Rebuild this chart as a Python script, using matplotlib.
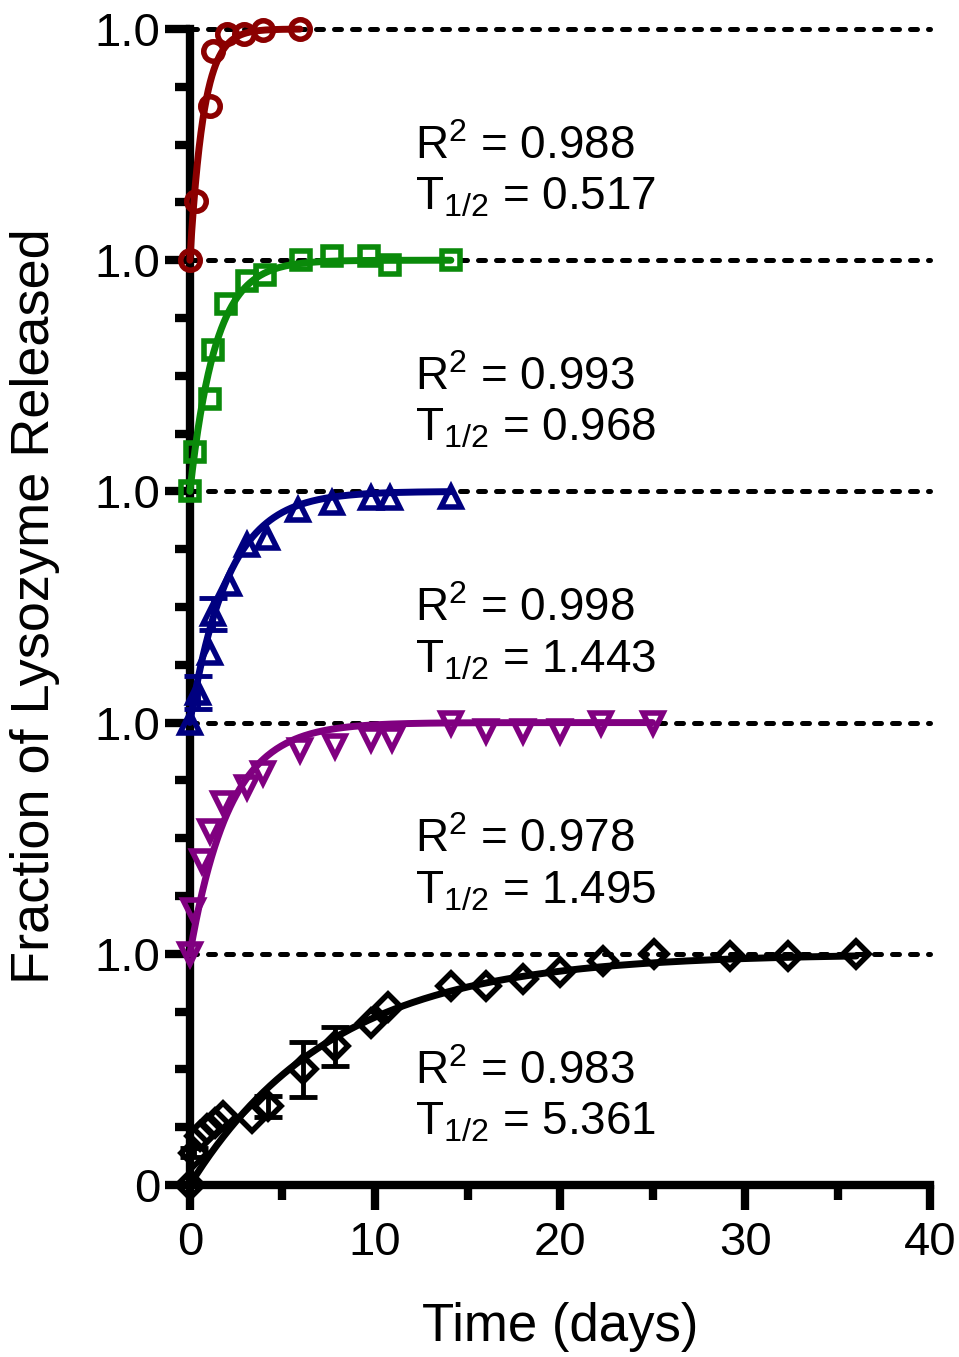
import numpy as np
import matplotlib
matplotlib.use("Agg")
import matplotlib.pyplot as plt

# Шрифт, похожий на Arial
plt.rcParams['font.family'] = ['Liberation Sans', 'DejaVu Sans']
plt.rcParams['mathtext.fontset'] = 'custom'
plt.rcParams['mathtext.rm'] = 'Liberation Sans'
plt.rcParams['mathtext.it'] = 'Liberation Sans:italic'
plt.rcParams['mathtext.bf'] = 'Liberation Sans:bold'

# Данные (сверху вниз), время в днях, доля высвобожденного лизоцима
red_t = [0, 0.32, 1.08, 1.24, 2.0, 2.9, 3.95, 5.95]
red_y = [0, 0.255, 0.667, 0.905, 0.98, 0.98, 0.995, 1.0]

green_t = [0, 0.27, 1.08, 1.26, 1.95, 3.06, 4.05, 6.03, 7.7, 9.7, 10.8, 14.1]
green_y = [0, 0.17, 0.40, 0.61, 0.81, 0.91, 0.935, 1.0, 1.02, 1.02, 0.98, 1.0]

blue_t = [0, 0.45, 1.08, 1.26, 2.1, 3.06, 4.14, 5.85, 7.7, 9.8, 10.8, 14.1]
blue_y = [0, 0.13, 0.30, 0.47, 0.60, 0.77, 0.80, 0.92, 0.95, 0.97, 0.97, 0.975]
blue_err = [0, 0.07, 0, 0.07, 0, 0, 0, 0, 0, 0, 0, 0]

purple_t = [0, 0.18, 0.63, 1.08, 1.8, 3.06, 3.96, 5.95, 7.84, 9.8, 10.9, 14.1, 16.0, 18.0, 20.0, 22.2, 25.0]
purple_y = [0, 0.19, 0.40, 0.53, 0.65, 0.72, 0.78, 0.88, 0.90, 0.93, 0.93, 1.0, 0.965, 0.965, 0.965, 1.0, 1.0]

black_t = [0, 0.2, 0.54, 0.9, 1.35, 1.8, 3.33, 4.23, 6.1, 7.84, 9.8, 10.7, 14.1, 16.0, 18.0, 20.0, 22.3, 25.1, 29.2, 32.3, 36.0]
black_y = [0, 0.14, 0.21, 0.24, 0.27, 0.30, 0.29, 0.34, 0.50, 0.60, 0.70, 0.77, 0.86, 0.86, 0.89, 0.92, 0.97, 1.0, 0.99, 0.99, 1.0]
black_err = [0, 0.02, 0, 0, 0, 0, 0, 0.045, 0.12, 0.085, 0, 0, 0, 0, 0, 0, 0, 0, 0, 0, 0]

# Параметры подгонки
r2_values = [0.988, 0.993, 0.998, 0.978, 0.983]
half_lives = [0.517, 0.968, 1.443, 1.495, 5.361]

series = [
    (red_t, red_y, None, '#8b0000', 'o', 14),
    (green_t, green_y, None, '#0a8a0a', 's', 13),
    (blue_t, blue_y, blue_err, '#000080', '^', 14),
    (purple_t, purple_y, None, '#800080', 'v', 14),
    (black_t, black_y, black_err, 'black', 'D', 13),
]
offsets = [4, 3, 2, 1, 0]

fig = plt.figure(figsize=(9.59, 13.57), dpi=100)
ax = fig.add_axes([0.198, 0.1268, 0.772, 0.8518])

# Пунктирные линии на уровне 1.0
for k in range(1, 6):
    ax.plot([0, 40], [k, k], color='black', lw=3.6, dashes=(1.4, 2.2),
            dash_capstyle='round', zorder=1, clip_on=False)

for (t, y, err, color, marker, ms), off, th in zip(series, offsets, half_lives):
    t = np.array(t)
    y = np.array(y) + off
    # Кривая подгонки: y = 1 - exp(-ln2/T1/2 * t)
    tt = np.linspace(0, t.max(), 300)
    ax.plot(tt, off + 1 - np.exp(-np.log(2) / th * tt), color=color, lw=5,
            zorder=3, clip_on=False, solid_capstyle='round')
    if err is not None:
        e = np.array(err)
        m = e > 0
        ax.errorbar(t[m], y[m], yerr=e[m], fmt='none', ecolor=color,
                    elinewidth=3.5, capsize=10, capthick=3.5, zorder=4, clip_on=False)
    ax.plot(t, y, linestyle='none', marker=marker, ms=ms, mfc='none',
            mec=color, mew=4, zorder=5, clip_on=False)

# Подписи R^2 и T1/2
for off, r2, th in zip(offsets, r2_values, half_lives):
    ax.text(12.15, off + 0.49, r'R$^{2}$ = %.3f' % r2, fontsize=33,
            va='center', ha='left')
    ax.text(12.15, off + 0.27, r'T$_{1/2}$ = %.3f' % th, fontsize=33,
            va='center', ha='left')

ax.set_xlim(0, 40)
ax.set_ylim(0, 5)
ax.set_xticks([0, 10, 20, 30, 40])
ax.set_xticks([5, 15, 25, 35], minor=True)
ax.set_yticks([0, 1, 2, 3, 4, 5])
ax.set_yticklabels(['0', '1.0', '1.0', '1.0', '1.0', '1.0'])
ax.set_yticks(np.arange(0, 5, 0.25)[[i for i in range(20) if i % 4]], minor=True)

for side in ['top', 'right']:
    ax.spines[side].set_visible(False)
for side in ['left', 'bottom']:
    ax.spines[side].set_linewidth(6)
    ax.spines[side].set_capstyle('projecting')

ax.tick_params(axis='both', which='major', length=18, width=6, labelsize=34,
               direction='out')
ax.tick_params(axis='y', which='major', pad=3)
ax.tick_params(axis='x', which='major', pad=8)
ax.tick_params(axis='both', which='minor', length=11, width=6, direction='out')

fig.text(0.036, 0.553, 'Fraction of Lysozyme Released', rotation=90,
         fontsize=39, ha='center', va='center')
fig.text(0.584, 0.022, 'Time (days)', fontsize=38, ha='center', va='center')

fig.savefig('out.png', dpi=100)
